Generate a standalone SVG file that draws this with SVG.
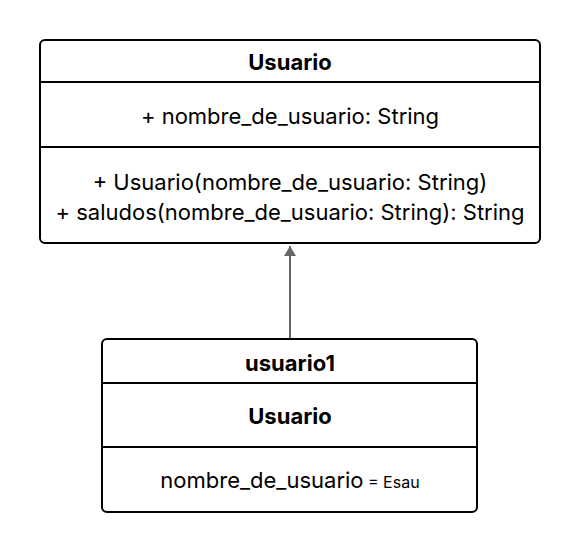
<svg xmlns="http://www.w3.org/2000/svg" width="580" height="552" viewBox="0 0 580 552">
<style>
.box{fill:#fff;stroke:#000;stroke-width:2}
.div{stroke:#000;stroke-width:2}
text{font-family:Inter,"Liberation Sans",sans-serif;fill:#000;text-anchor:middle}
.t{font-size:22px;font-weight:700}
.m{font-size:22px}
.s{font-size:16px}
.edge{stroke:#666;stroke-width:2;fill:none}
</style>
<defs>
<marker id="arr" markerWidth="12" markerHeight="20" refX="10" refY="6" orient="auto" markerUnits="userSpaceOnUse" viewBox="0 0 12 12">
<path d="M0,0 L10,6 L0,12 Z" fill="#666"/>
</marker>
</defs>
<rect width="580" height="552" fill="#fff"/>
<g id="connectors">
<line class="edge" x1="290" y1="339" x2="290" y2="246" marker-end="url(#arr)"/>
</g>
<g id="Usuario">
<rect class="box" x="40" y="40" width="500" height="203" rx="5"/>
<line class="div" x1="40" y1="82" x2="540" y2="82"/>
<line class="div" x1="40" y1="147" x2="540" y2="147"/>
<text class="t" x="290" y="70">Usuario</text>
<text class="m" x="290" y="124">+ nombre_de_usuario: String</text>
<text class="m" x="290" y="190">+ Usuario(nombre_de_usuario: String)</text>
<text class="m" x="290" y="220">+ saludos(nombre_de_usuario: String): String</text>
</g>
<g id="usuario1">
<rect class="box" x="102" y="339" width="375" height="173" rx="5"/>
<line class="div" x1="102" y1="383" x2="477" y2="383"/>
<line class="div" x1="102" y1="447" x2="477" y2="447"/>
<text class="t" x="290" y="371">usuario1</text>
<text class="t" x="290" y="424">Usuario</text>
<text class="m" x="290" y="488"><tspan>nombre_de_usuario</tspan><tspan class="s"> = Esau</tspan></text>
</g>
</svg>
